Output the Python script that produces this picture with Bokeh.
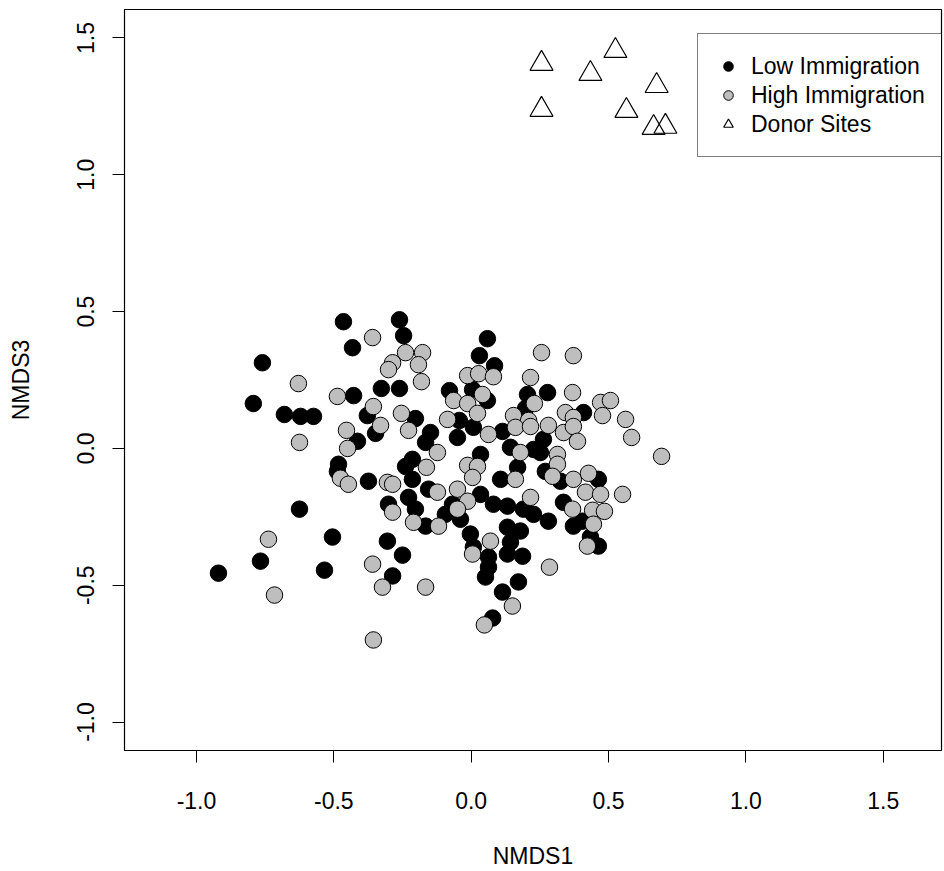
from bokeh.plotting import figure
from bokeh.models import Range1d, FixedTicker, NumeralTickFormatter, Legend, LegendItem, ColumnDataSource
from bokeh.embed import file_html
from bokeh.resources import INLINE

# ---------------- data ----------------
low_x = [-0.465, -0.432, -0.760, -0.793, -0.680, -0.621, -0.574, -0.428, -0.378, -0.348,
         -0.414, -0.483, -0.487, -0.374, -0.625, -0.505, -0.920, -0.767, -0.534, -0.261,
         -0.246, -0.327, -0.261, -0.203, 0.059, 0.030, 0.085, -0.079, 0.005, 0.059,
         -0.043, 0.205, 0.198, 0.278, 0.409, -0.148, -0.166, -0.214, -0.239, -0.050,
         0.008, 0.114, 0.034, 0.143, 0.227, 0.263, 0.169, 0.252, 0.270, 0.325,
         0.463, 0.336, 0.281, 0.372, 0.405, 0.434, 0.463, -0.214, 0.107, -0.155,
         0.034, -0.228, -0.068, 0.081, 0.132, 0.190, -0.301, -0.203, -0.094, -0.039,
         -0.166, 0.227, 0.132, 0.179, -0.003, -0.305, 0.143, 0.008, -0.250, -0.286,
         0.063, 0.063, 0.052, 0.132, 0.187, 0.172, 0.114, 0.078]
low_y = [0.463, 0.368, 0.313, 0.164, 0.124, 0.117, 0.117, 0.193, 0.120, 0.055,
         0.026, -0.058, -0.084, -0.120, -0.222, -0.324, -0.456, -0.412, -0.445, 0.470,
         0.412, 0.219, 0.219, 0.109, 0.401, 0.339, 0.302, 0.211, 0.215, 0.175,
         0.102, 0.197, 0.146, 0.204, 0.131, 0.058, 0.022, -0.040, -0.066, 0.040,
         0.077, 0.062, -0.022, 0.004, -0.004, 0.033, -0.069, -0.015, -0.084, -0.120,
         -0.113, -0.197, -0.266, -0.284, -0.266, -0.324, -0.357, -0.113, -0.113, -0.149,
         -0.168, -0.179, -0.204, -0.204, -0.211, -0.222, -0.204, -0.222, -0.241, -0.259,
         -0.284, -0.241, -0.288, -0.302, -0.313, -0.339, -0.343, -0.361, -0.390, -0.466,
         -0.397, -0.434, -0.470, -0.386, -0.394, -0.488, -0.525, -0.620]

high_x = [-0.629, -0.487, -0.359, -0.356, -0.239, -0.177, -0.286, -0.301, -0.192, -0.181,
          -0.254, -0.330, -0.013, 0.027, 0.081, -0.064, 0.041, -0.013, 0.023, -0.086,
          0.216, 0.230, 0.154, 0.209, 0.256, 0.372, 0.369, 0.471, 0.507, 0.343,
          0.478, 0.562, 0.372, 0.281, -0.625, -0.454, -0.450, -0.476, -0.447, -0.738,
          -0.716, -0.359, -0.356, -0.228, -0.123, -0.163, 0.063, -0.013, 0.023, 0.161,
          0.336, 0.179, 0.314, 0.314, 0.216, 0.005, -0.305, -0.286, 0.161, -0.123,
          -0.050, -0.013, -0.050, 0.216, -0.286, -0.210, -0.119, 0.070, 0.372, 0.387,
          0.584, 0.693, 0.296, 0.372, 0.427, 0.416, 0.471, 0.551, 0.369, 0.442,
          0.485, 0.445, 0.423, -0.323, -0.166, 0.005, 0.150, 0.048, 0.285]
high_y = [0.237, 0.190, 0.405, 0.153, 0.350, 0.350, 0.313, 0.288, 0.306, 0.244,
          0.128, 0.084, 0.266, 0.273, 0.262, 0.175, 0.197, 0.164, 0.128, 0.106,
          0.259, 0.164, 0.120, 0.102, 0.350, 0.339, 0.204, 0.168, 0.175, 0.131,
          0.120, 0.106, 0.113, 0.084, 0.022, 0.066, 0.000, -0.109, -0.131, -0.332,
          -0.536, -0.423, -0.700, 0.066, -0.015, -0.069, 0.051, -0.062, -0.066, 0.077,
          0.058, -0.015, -0.022, -0.058, 0.080, -0.106, -0.124, -0.131, -0.113, -0.160,
          -0.149, -0.193, -0.222, -0.179, -0.233, -0.270, -0.284, -0.339, 0.080, 0.026,
          0.040, -0.029, -0.102, -0.113, -0.091, -0.160, -0.168, -0.168, -0.222, -0.226,
          -0.230, -0.277, -0.357, -0.507, -0.507, -0.386, -0.576, -0.645, -0.434]

donor_x = [0.256, 0.525, 0.434, 0.675, 0.256, 0.565, 0.664, 0.707]
donor_y = [1.406, 1.453, 1.369, 1.325, 1.238, 1.234, 1.172, 1.176]

tick_values = [-1.0, -0.5, 0.0, 0.5, 1.0, 1.5]
series_labels = ["Low Immigration", "High Immigration", "Donor Sites"]
x_title = "NMDS1"
y_title = "NMDS3"

# ---------------- figure ----------------
FONT = "Liberation Sans"
FS = "23px"

p = figure(width=944, height=871,
           x_range=Range1d(-1.262, 1.712), y_range=Range1d(-1.104, 1.604),
           output_backend="svg", toolbar_location=None,
           min_border_left=124, min_border_right=3, min_border_top=9, min_border_bottom=119,
           background_fill_color="white", border_fill_color="white")
p.grid.visible = False
p.outline_line_color = "black"
p.outline_line_width = 1.2

for ax in (p.xaxis[0], p.yaxis[0]):
    ax.ticker = FixedTicker(ticks=tick_values)
    ax.formatter = NumeralTickFormatter(format="0.0")
    ax.axis_line_color = None
    ax.major_tick_in = 0
    ax.major_tick_out = 12
    ax.major_tick_line_color = "black"
    ax.major_tick_line_width = 1
    ax.minor_tick_line_color = None
    ax.major_label_text_font = FONT
    ax.major_label_text_font_size = FS
    ax.major_label_text_color = "black"
    ax.axis_label_text_font = FONT
    ax.axis_label_text_font_size = FS
    ax.axis_label_text_font_style = "normal"
    ax.axis_label_text_color = "black"

p.xaxis[0].axis_label = x_title
p.xaxis[0].major_label_standoff = 29
p.xaxis[0].axis_label_standoff = 31
p.yaxis[0].axis_label = y_title
p.yaxis[0].major_label_orientation = "vertical"
p.yaxis[0].major_label_standoff = 18
p.yaxis[0].axis_label_standoff = 41

src_low = ColumnDataSource(dict(x=low_x, y=low_y))
src_high = ColumnDataSource(dict(x=high_x, y=high_y))
src_donor = ColumnDataSource(dict(x=donor_x, y=donor_y))

r_low = p.scatter("x", "y", source=src_low, marker="circle", size=16.5,
                  fill_color="black", line_color="black", line_width=1)
r_high = p.scatter("x", "y", source=src_high, marker="circle", size=16.5,
                   fill_color="#BEBEBE", line_color="black", line_width=1)
r_donor = p.scatter("x", "y", source=src_donor, marker="triangle", size=23,
                    fill_color=None, line_color="black", line_width=1.2)

legend = Legend(items=[LegendItem(label=series_labels[0], renderers=[r_low]),
                       LegendItem(label=series_labels[1], renderers=[r_high]),
                       LegendItem(label=series_labels[2], renderers=[r_donor])],
                location=(573, 593), orientation="vertical",
                border_line_color="black", border_line_width=1.2,
                background_fill_color="white", background_fill_alpha=1,
                padding=18, spacing=1, margin=0,
                glyph_height=28, glyph_width=24, label_height=28, label_standoff=11,
                label_text_font=FONT, label_text_font_size=FS, label_text_color="black")
p.add_layout(legend)

open("out.html", "w").write(file_html(p, INLINE))
